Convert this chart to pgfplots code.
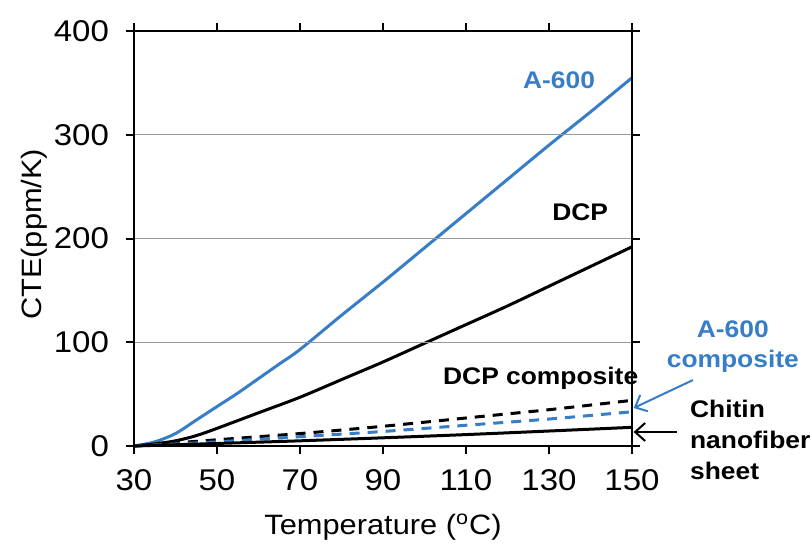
\documentclass[border=0pt]{standalone}
\usepackage{fontspec}
\setmainfont[FakeStretch=1.1]{Liberation Sans}
\usepackage{pgfplots}
\pgfplotsset{compat=1.18}
\usetikzlibrary{arrows.meta}

\definecolor{ablue}{RGB}{55,125,200}

\begin{document}
\begin{tikzpicture}
\useasboundingbox (-67pt,-48.5pt) rectangle (338.5pt,223pt);
\begin{axis}[
    at={(0,0)}, anchor=south west,
    scale only axis,
    width=249pt, height=207.5pt,
    xmin=30, xmax=150, ymin=0, ymax=400,
    xtick={30,50,...,150},
    ytick={0,100,...,400},
    tick align=outside,
    major tick length=4pt,
    tick style={black, line width=1pt},
    axis line style={black, line width=1.3pt},
    ymajorgrids,
    grid style={gray!80, line width=0.5pt},
    /pgf/number format/assume math mode=true,
    ticklabel style={font=\fontsize{15}{17}\selectfont},
    yticklabel style={xshift=-5pt},
    xticklabel style={yshift=-4pt},
    xlabel={Temperature (\textsuperscript{o}C)},
    ylabel={CTE(ppm/K)},
    label style={font=\fontsize{14}{16}\selectfont},
    xlabel style={at={(axis description cs:0.5,-0.195)}, anchor=center},
    ylabel style={at={(axis description cs:-0.2,0.51)}, anchor=center},
    clip=false,
    axis on top,
]
% A-600
\addplot[ablue, line width=1.5pt, smooth] coordinates {
    (30,0) (35,4) (40,12) (45,25) (50,38) (55,51) (60,65) (65,79) (70,93)
    (80,126) (90,158) (100,191) (110,224) (120,257) (130,290) (140,322) (150,355)
};
% DCP
\addplot[black, line width=1.5pt, smooth] coordinates {
    (30,0) (35,2) (40,5) (45,10) (50,17) (60,32) (70,47) (80,64) (90,81)
    (100,99) (110,117) (120,135) (130,154) (140,173) (150,192)
};
% DCP composite
\addplot[black, line width=1.5pt, dash pattern=on 5pt off 4pt, smooth] coordinates {
    (30,0) (50,6) (70,12) (90,19) (110,27) (130,35) (150,44)
};
% A-600 composite
\addplot[ablue, line width=1.5pt, dash pattern=on 5pt off 4pt, smooth] coordinates {
    (30,0) (50,4) (70,9) (90,14) (110,20) (130,26) (150,33)
};
% Chitin nanofiber sheet
\addplot[black, line width=1.5pt, smooth] coordinates {
    (30,0) (70,5) (110,11) (150,18)
};

\node[anchor=east, text=ablue, font=\bfseries\fontsize{12}{14}\selectfont] at (axis cs:142.8,353) {A-600};
\node[font=\bfseries\fontsize{12}{14}\selectfont] at (axis cs:137.5,225.5) {DCP};
\node[font=\bfseries\fontsize{12}{14}\selectfont] at (axis cs:128,65.5) {DCP composite};
\node[text=ablue, align=center, font=\bfseries\fontsize{12}{15}\selectfont] at (axis cs:174.3,96) {A-600\\composite};
\node[anchor=west, align=left, font=\bfseries\fontsize{12}{15.5}\selectfont] at (axis cs:162.3,6) {Chitin\\nanofiber\\sheet};
\draw[ablue, line width=1pt, -{Straight Barb[length=5pt,width=9pt]}] (axis cs:164.7,63.6) -- (axis cs:150.4,36.6);
\draw[black, line width=1pt, -{Straight Barb[length=5pt,width=9pt]}] (axis cs:160.8,13.5) -- (axis cs:150.4,13.5);
\end{axis}
\end{tikzpicture}
\end{document}
